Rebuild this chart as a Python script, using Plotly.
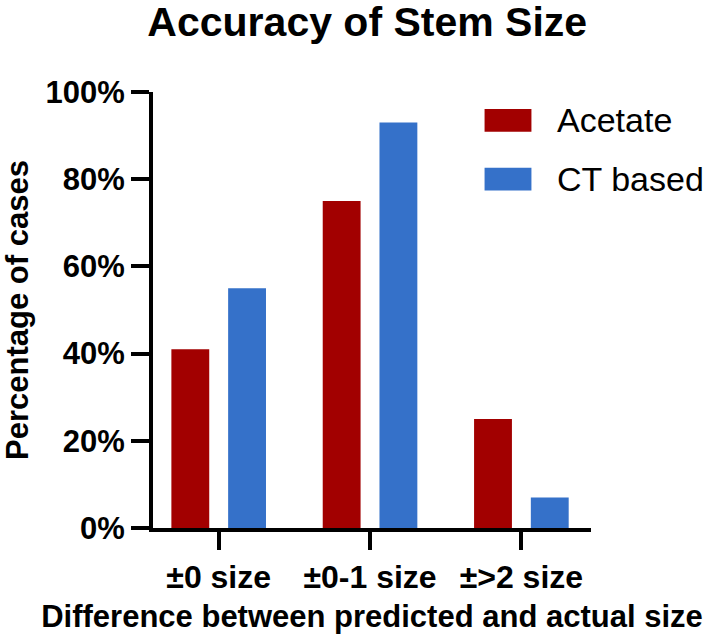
import plotly.graph_objects as go

categories = ["±0 size", "±0-1 size", "±>2 size"]
series_names = ["Acetate", "CT based"]
acetate = [41, 75, 25]
ct_based = [55, 93, 7]
y_ticks = [0, 20, 40, 60, 80, 100]
y_tick_labels = [f"{v}%" for v in y_ticks]

colors = ["#A20000", "#3571C9"]
FONT = "Liberation Sans, Arial, sans-serif"

fig = go.Figure()
for name, vals, col in zip(series_names, [acetate, ct_based], colors):
    fig.add_trace(go.Bar(x=list(range(len(categories))), y=vals, name=name,
                         marker=dict(color=col, line=dict(width=0)),
                         showlegend=False))

# manual legend (large swatches)
leg_y = [0.935, 0.800]
for name, col, yc in zip(series_names, colors, leg_y):
    fig.add_shape(type="rect", xref="paper", yref="paper",
                  x0=0.757, x1=0.864, y0=yc - 0.026, y1=yc + 0.026,
                  fillcolor=col, line=dict(width=0))
    fig.add_annotation(text=name, xref="paper", yref="paper", x=0.918, y=yc,
                       xanchor="left", yanchor="middle", showarrow=False,
                       font=dict(family=FONT, size=34, color="black"))

fig.update_layout(
    width=709, height=641,
    margin=dict(l=151, r=118, t=92, b=111),
    paper_bgcolor="white", plot_bgcolor="white",
    barmode="group", bargap=0.25, bargroupgap=0.333,
    title=dict(text="<b>Accuracy of Stem Size</b>", x=0.518, xanchor="center",
               xref="container", y=1 - 22 / 641, yanchor="middle", yref="container",
               font=dict(family=FONT, size=41, color="black")),
    font=dict(family=FONT, color="black"),
)
fig.update_xaxes(
    range=[-0.434, 2.46], tickmode="array", tickvals=list(range(len(categories))),
    ticktext=[f"<b>{c}</b>" for c in categories],
    showline=True, linecolor="black", linewidth=4, ticks="outside",
    ticklen=18, tickwidth=4, tickcolor="black", showgrid=False, zeroline=False,
    tickfont=dict(family=FONT, size=32, color="black"),
    title=dict(text="<b>Difference between predicted and actual size</b>",
               font=dict(family=FONT, size=31, color="black"), standoff=12),
)
fig.update_yaxes(
    range=[0, 100], tickmode="array", tickvals=y_ticks,
    ticktext=[f"<b>{t}</b>" for t in y_tick_labels],
    showline=True, linecolor="black", linewidth=4, ticks="outside",
    ticklen=18, tickwidth=4, tickcolor="black", showgrid=False, zeroline=False,
    tickfont=dict(family=FONT, size=31, color="black"),
    title=dict(text="<b>Percentage of cases</b>",
               font=dict(family=FONT, size=31, color="black"), standoff=12),
)

fig.write_html("out.html", config={"displayModeBar": False},
               post_script="document.body.style.margin='0';")
